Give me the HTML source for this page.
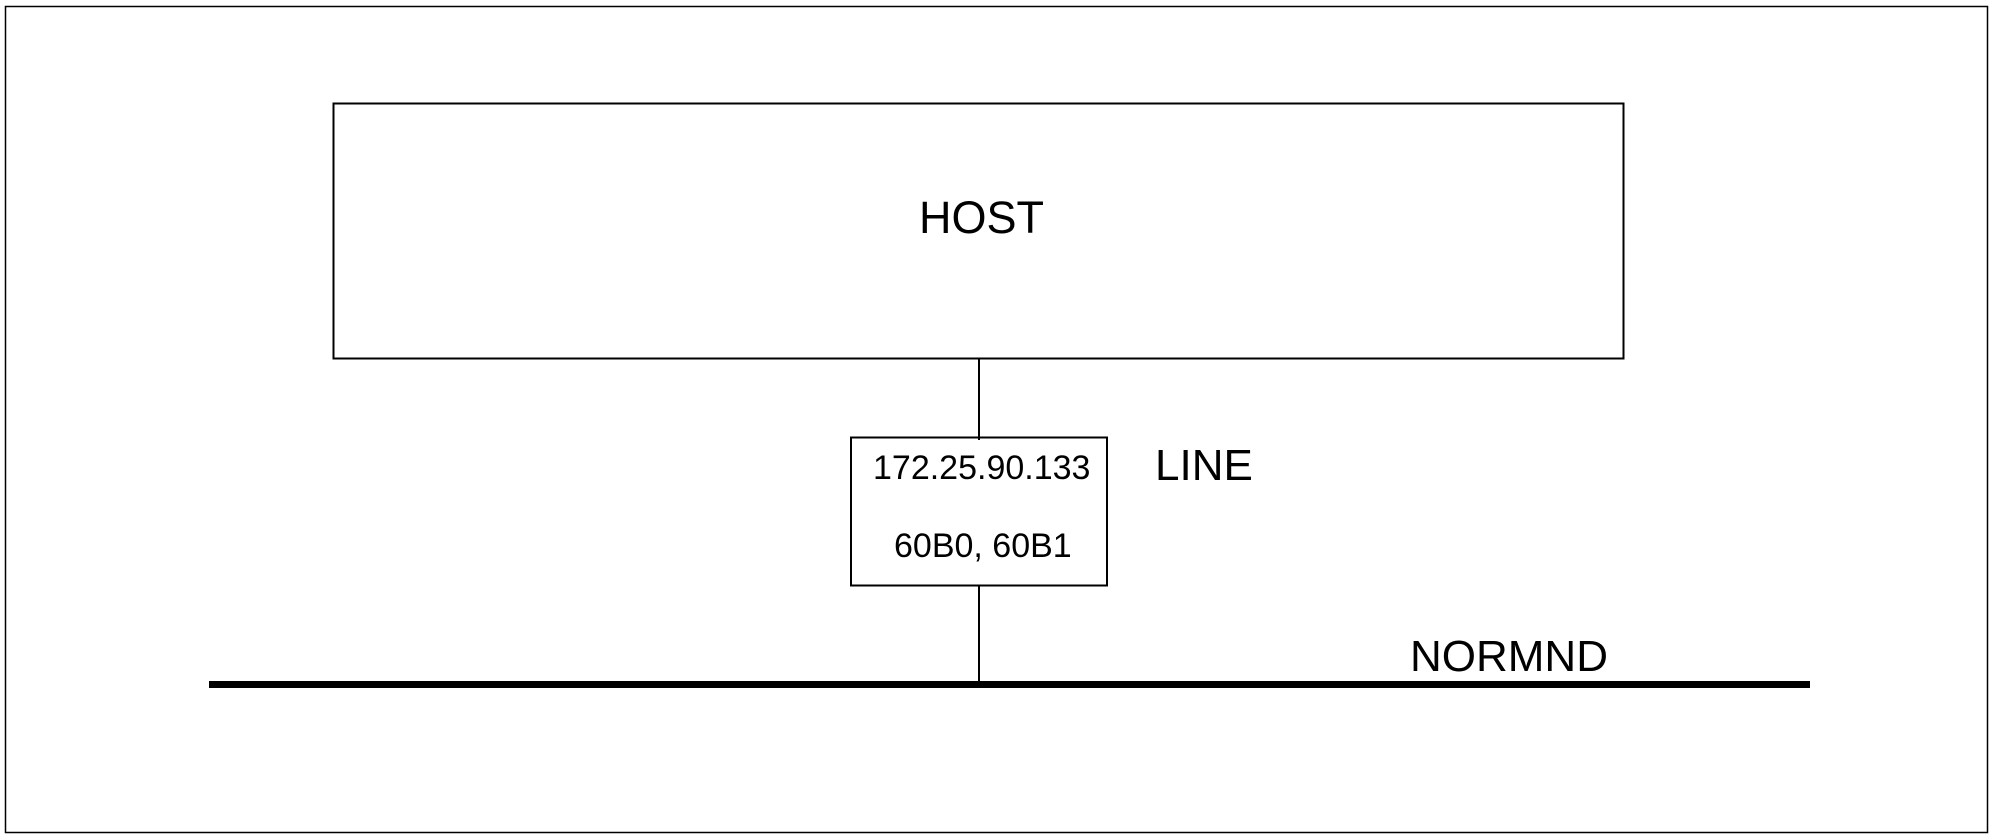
<!DOCTYPE html>
<html><head><meta charset="utf-8"><style>
html,body{margin:0;padding:0;background:#fff;}
svg{display:block;}
text{font-family:"Liberation Sans",Arial,sans-serif;fill:#000;}
</style></head><body>
<svg width="1994" height="838" viewBox="0 0 1994 838" xmlns="http://www.w3.org/2000/svg">
<rect x="5.5" y="6.5" width="1982" height="826" fill="none" stroke="#000" stroke-width="1.5"/>
<rect x="333.5" y="103.5" width="1290" height="255" fill="none" stroke="#000" stroke-width="2"/>
<text x="919" y="233" font-size="45">HOST</text>
<line x1="979" y1="358" x2="979" y2="440" stroke="#000" stroke-width="2"/>
<rect x="851" y="437.5" width="256" height="148" fill="none" stroke="#000" stroke-width="2"/>
<text x="873" y="479" font-size="34">172.25.90.133</text>
<text x="894" y="557" font-size="34">60B0, 60B1</text>
<text x="1155" y="480" font-size="44">LINE</text>
<line x1="979" y1="586" x2="979" y2="682" stroke="#000" stroke-width="2"/>
<rect x="209" y="681" width="1601" height="7" fill="#000"/>
<text x="1410" y="671" font-size="44">NORMND</text>
</svg>
</body></html>
